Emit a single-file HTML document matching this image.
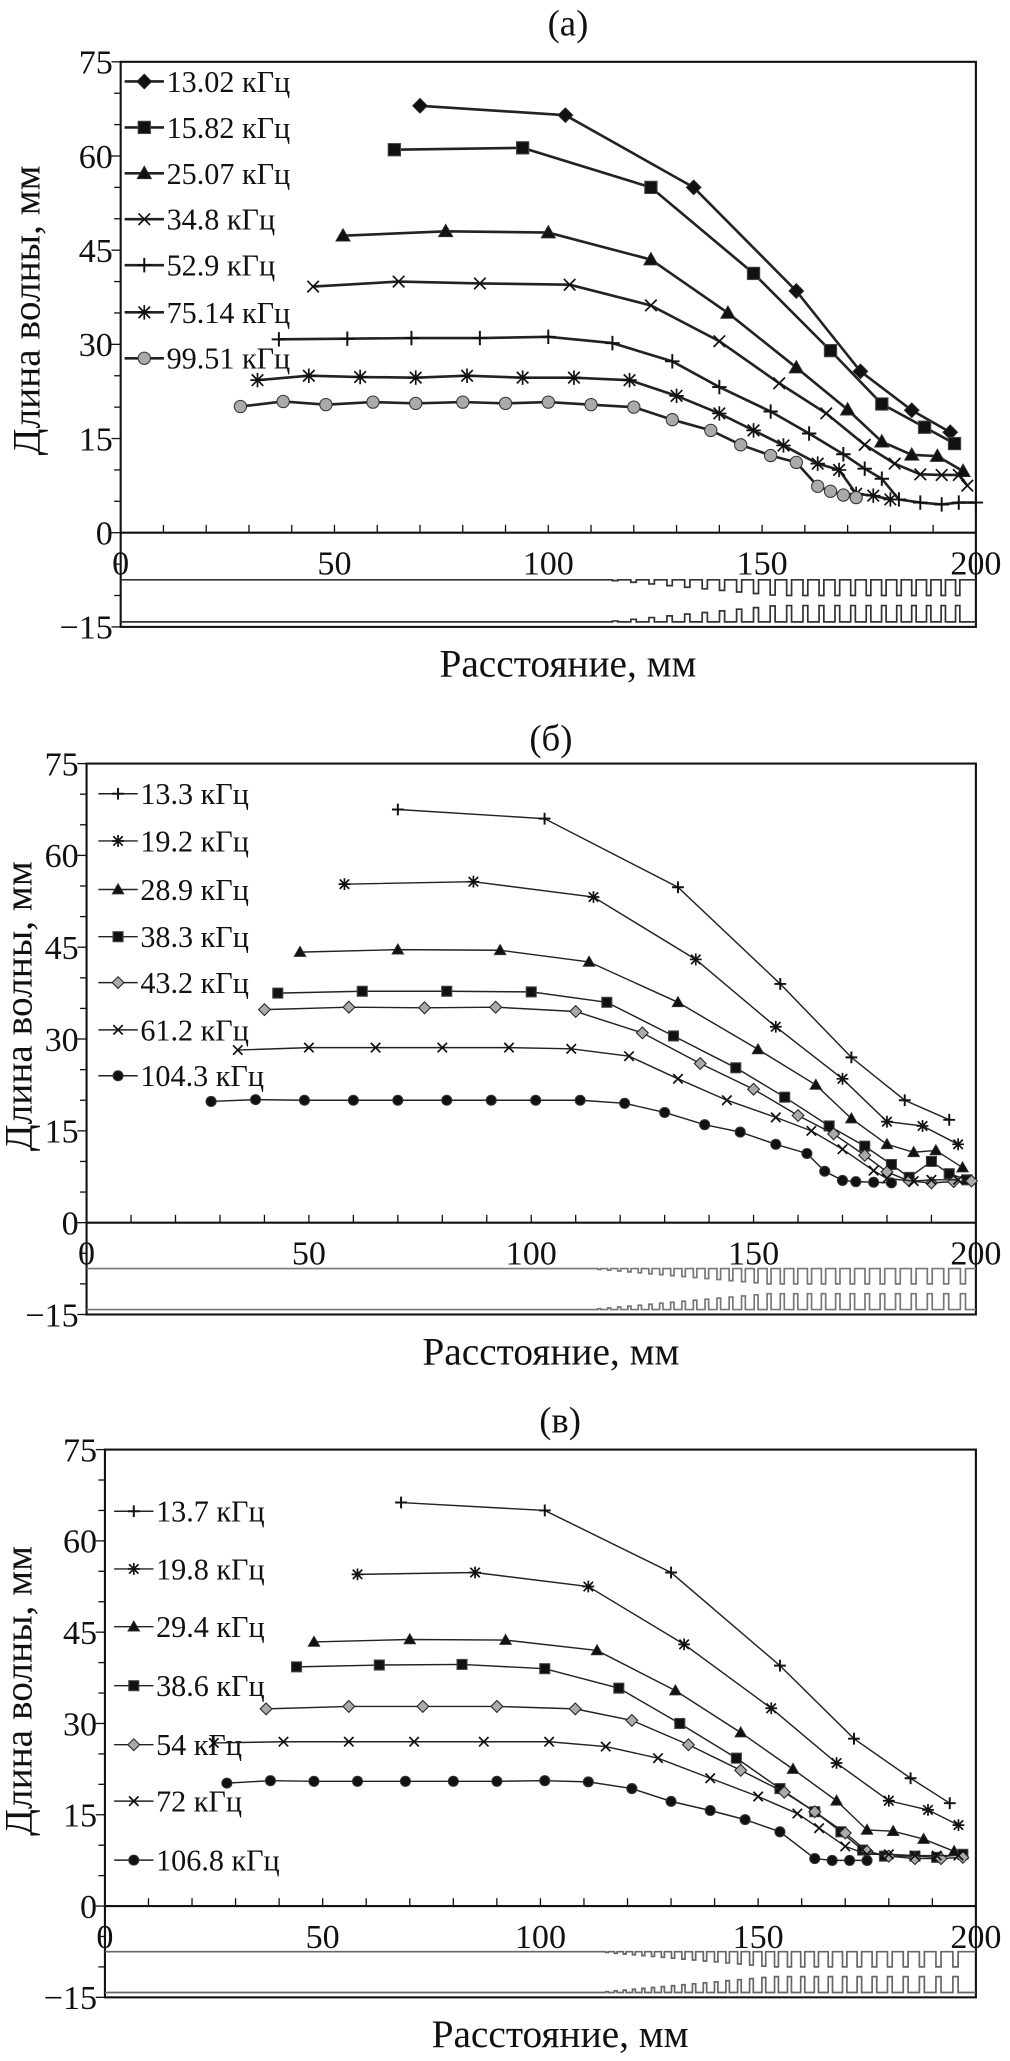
<!DOCTYPE html>
<html><head><meta charset="utf-8"><style>
html,body{margin:0;padding:0;background:#fff}
svg{display:block}
text{font-family:"Liberation Serif",serif;fill:#111}
</style></head><body>
<svg id="fig" width="1010" height="2061" viewBox="0 0 770 1571" xmlns="http://www.w3.org/2000/svg"></svg>
<script>
// ---- data: panel a ----
const aNames = ["13.02 кГц","15.82 кГц","25.07 кГц","34.8 кГц","52.9 кГц","75.14 кГц","99.51 кГц"];
const aMarkers = ["diamond","square","triangle","x","plus","star","circle"];
const aX = [
 [70,104,134,158,173,185,194],
 [64,94,124,148,166,178,188,195],
 [52,76,100,124,142,158,170,178,185,191,197],
 [45,65,84,105,124,140,154,165,174,181,187,192,196,198],
 [37,53,68,84,100,115,129,140,152,161,169,174,178,182,187,192,196,200],
 [32,44,56,69,81,94,106,119,130,140,148,155,163,168,172,176,180],
 [28,38,48,59,69,80,90,100,110,120,129,138,145,152,158,163,166,169,172]];
const aY = [
 [68,66.5,55,38.5,25.7,19.5,16],
 [61,61.3,55,41.3,29,20.5,16.8,14.2],
 [47.3,48,47.8,43.5,35,26.3,19.6,14.5,12.4,12.2,9.8],
 [39.2,40,39.7,39.5,36.2,30.5,23.8,19,14,11,9.3,9.2,9.2,7.5],
 [30.8,30.9,31,31,31.2,30.2,27.3,23.2,19.3,15.8,12.5,10.2,8.6,5.3,4.8,4.5,4.8,4.8],
 [24.3,25,24.8,24.7,25,24.7,24.7,24.3,21.8,19,16.3,13.9,11,10,6.2,5.9,5.3],
 [20.1,20.9,20.4,20.8,20.6,20.8,20.6,20.8,20.4,20,18,16.3,14,12.3,11.2,7.4,6.6,6,5.6]];
// ---- data: panel b ----
const bNames = ["13.3 кГц","19.2 кГц","28.9 кГц","38.3 кГц","43.2 кГц","61.2 кГц","104.3 кГц"];
const bMarkers = ["plus","star","triangle","square","diamond","x","circle"];
const bX = [
 [70,103,133,156,172,184,194],
 [58,87,114,137,155,170,180,188,196],
 [48,70,93,113,133,151,164,172,180,186,191,197],
 [43,62,81,100,117,132,146,157,167,175,181,185,190,194,198],
 [40,59,76,92,110,125,138,150,160,168,175,180,185,190,195,199],
 [34,50,65,80,95,109,122,133,144,155,163,170,177,180,186,190,196],
 [28,38,49,60,70,81,91,101,111,121,130,139,147,155,162,166,170,173,177,181]];
const bY = [
 [67.5,66,54.8,39,27,20,16.8],
 [55.3,55.7,53.2,43,32,23.5,16.5,15.8,12.8],
 [44.2,44.6,44.5,42.6,36,28.3,22.5,17,12.8,11.5,11.8,9],
 [37.5,37.8,37.8,37.7,36,30.5,25.3,20.5,15.8,12.5,9.5,7.4,10,8,7],
 [34.8,35.2,35.1,35.2,34.5,31,26,21.8,17.5,14.5,11,8.3,6.8,6.5,6.7,6.8],
 [28.2,28.6,28.6,28.6,28.6,28.4,27.2,23.5,20,17.2,15,12,8.5,7.2,6.8,7,7],
 [19.8,20.1,20,20,20,20,20,20,20,19.5,18,16,14.8,12.8,11.3,8.4,6.9,6.7,6.6,6.5]];
// ---- data: panel c ----
const cNames = ["13.7 кГц","19.8 кГц","29.4 кГц","38.6 кГц","54 кГц","72 кГц","106.8 кГц"];
const cMarkers = ["plus","star","triangle","square","diamond","x","circle"];
const cX = [
 [68,101,130,155,172,185,194],
 [58,85,111,133,153,168,180,189,196],
 [48,70,92,113,131,146,158,168,175,181,188,195],
 [44,63,82,101,118,132,145,155,163,169,174,179,186,191,197],
 [37,56,73,90,108,121,134,146,156,163,170,175,180,186,192,197],
 [25,41,56,71,87,102,115,127,139,150,159,164,170,175,180,186,191,196],
 [28,38,48,58,69,80,90,101,111,121,130,139,147,155,163,167,171,175]];
const cY = [
 [66.3,65,54.8,39.5,27.5,21,16.9],
 [54.5,54.8,52.5,43,32.5,23.5,17.3,15.8,13.3],
 [43.4,43.8,43.7,42,35.4,28.5,22.5,17.3,12.5,12.3,11,9],
 [39.3,39.6,39.7,39,35.8,30,24.3,19.3,15.5,12.2,9.2,8.2,8.2,8,8.5],
 [32.4,32.8,32.8,32.8,32.4,30.5,26.5,22.3,18.7,15.5,12,9,8.2,7.8,7.8,8],
 [26.8,27,27,27,27,27,26.2,24.3,21,18,15.2,12.8,9.8,8.5,8.5,8.3,8.3,8.3],
 [20.2,20.6,20.5,20.5,20.5,20.5,20.5,20.6,20.4,19.3,17.2,15.7,14.2,12.2,7.8,7.5,7.5,7.5]];
const yTicks = [-15,0,15,30,45,60,75];
const xTicks = [0,50,100,150,200];

const NS="http://www.w3.org/2000/svg";
const svg=document.getElementById('fig');
function mk(tag,attrs,parent){const e=document.createElementNS(NS,tag);for(const k in attrs)e.setAttribute(k,attrs[k]);(parent||svg).appendChild(e);return e;}

function marker(g,type,cx,cy,s,fill){
  let e;
  if(type==="diamond") e=mk('polygon',{points:`${cx},${cy-s} ${cx+s},${cy} ${cx},${cy+s} ${cx-s},${cy}`,fill:fill,stroke:'#222','stroke-width':0.8},g);
  else if(type==="square") e=mk('rect',{x:cx-s*0.85,y:cy-s*0.85,width:s*1.7,height:s*1.7,fill:fill,stroke:'#444','stroke-width':0.8},g);
  else if(type==="triangle") e=mk('polygon',{points:`${cx},${cy-s} ${cx+s},${cy+s*0.75} ${cx-s},${cy+s*0.75}`,fill:fill,stroke:'#333','stroke-width':0.6},g);
  else if(type==="circle") e=mk('circle',{cx:cx,cy:cy,r:s*0.85,fill:fill,stroke:'#333','stroke-width':0.8},g);
  else if(type==="plus") e=mk('path',{d:`M${cx-s},${cy}H${cx+s}M${cx},${cy-s}V${cy+s}`,stroke:'#111','stroke-width':1.5,fill:'none'},g);
  else if(type==="x") e=mk('path',{d:`M${cx-s*0.8},${cy-s*0.8}L${cx+s*0.8},${cy+s*0.8}M${cx-s*0.8},${cy+s*0.8}L${cx+s*0.8},${cy-s*0.8}`,stroke:'#111','stroke-width':1.3,fill:'none'},g);
  else if(type==="star") e=mk('path',{d:`M${cx-s},${cy}H${cx+s}M${cx-s*0.8},${cy-s*0.8}L${cx+s*0.8},${cy+s*0.8}M${cx-s*0.8},${cy+s*0.8}L${cx+s*0.8},${cy-s*0.8}M${cx},${cy-s}V${cy+s}`,stroke:'#111','stroke-width':1.3,fill:'none'},g);
  
  
}

function panel(cfg){
  const {id,title,titleY,L,R,T,Y0,names,markers,X,Y,lw,ms,leg,lineGray,combP,ytX}=cfg;
  const g=mk('g',{});
  
  
  const ppu=(Y0-T)/75;
  const sx=v=>L+(R-L)*v/200;
  const sy=v=>Y0-v*ppu;
  const B=sy(-15);
  const t=mk('text',{x:(L+R)/2+15,y:titleY,'font-size':28,'text-anchor':'middle'},g);t.textContent=title;
  
  const box=mk('rect',{x:L,y:T,width:R-L,height:B-T,fill:'none',stroke:'#111','stroke-width':1.6},g);
  
  const ax=mk('line',{x1:L,y1:Y0,x2:R,y2:Y0,stroke:'#111','stroke-width':1.6},g);
  
  for(let v=-15;v<=75;v+=5){const major=v%15===0;mk('line',{x1:L-(major?7:5),x2:L,y1:sy(v),y2:sy(v),stroke:'#111','stroke-width':1},g);}
  yTicks.forEach(v=>{const e=mk('text',{x:L-6,y:sy(v)+9,'font-size':26,'text-anchor':'end'},g);e.textContent=v<0?'\u2212'+Math.abs(v):v;
    });
  for(let v=10;v<200;v+=10)mk('line',{x1:sx(v),x2:sx(v),y1:Y0,y2:Y0-6,stroke:'#111','stroke-width':1},g);
  xTicks.forEach(v=>{const e=mk('text',{x:sx(v),y:Y0+32,'font-size':26,'text-anchor':'middle'},g);e.textContent=v;
    });
  const yl=mk('text',{x:0,y:0,'font-size':30,'text-anchor':'middle',transform:`translate(${ytX},${(T+Y0)/2+10}) rotate(-90)`},g);
  yl.textContent='Длина волны, мм';
  const xl=mk('text',{x:(L+R)/2+15,y:B+38,'font-size':30,'text-anchor':'middle'},g);
  xl.textContent='Расстояние, мм';
  const up=sy(-7.5),upT=sy(-10),lo=sy(-14.2),loT=sy(-11.6);
  let d1=`M${L},${up}H${sx(115)}`,d2=`M${L},${lo}H${sx(115)}`;
  let p=115;
  while(p<198){const per=combP(p);const w=per*0.3;const h=Math.min(1,(p-113)/40);
    d1+=`H${sx(p)}V${up+(upT-up)*h}H${sx(p+w)}V${up}`;d2+=`H${sx(p)}V${lo+(loT-lo)*h}H${sx(p+w)}V${lo}`;p+=per;}
  d1+=`H${R}`;d2+=`H${R}`;
  const c1=mk('path',{d:d1,fill:'none',stroke:lineGray,'stroke-width':1.3},g);
  
  const c2=mk('path',{d:d2,fill:'none',stroke:lineGray,'stroke-width':1.3},g);
  
  names.forEach((n,i)=>{
    const sg=mk('g',{},g);
    
    
    const pts=X[i].map((x,j)=>sx(x)+','+sy(Y[i][j])).join(' ');
    const pl=mk('polyline',{points:pts,fill:'none',stroke:'#222','stroke-width':lw},sg);
    
    const fill=(markers[i]==='circle'&&id==='a')||markers[i]==='diamond'&&id!=='a'?'#aaa':'#111';
    X[i].forEach((x,j)=>marker(sg,markers[i],sx(x),sy(Y[i][j]),ms,fill));
    const lg=mk('g',{},g);
    
    const ly=leg.y[i];
    mk('line',{x1:leg.x-15,x2:leg.x+15,y1:ly,y2:ly,stroke:'#222','stroke-width':lw},lg);
    marker(lg,markers[i],leg.x,ly,ms,fill);
    const lt=mk('text',{x:leg.x+17,y:ly+8,'font-size':23},lg);lt.textContent=n;
  });
}
panel({id:'a',title:'(a)',titleY:27,L:92,R:744,T:47,Y0:406,names:aNames,markers:aMarkers,X:aX,Y:aY,lw:2,ms:5.5,ytX:30,
  leg:{x:110,y:[62,97,132,167,202,238,273]},lineGray:'#333',combP:p=>4.3-(p-115)*0.012});
panel({id:'b',title:'(б)',titleY:572,L:66,R:744,T:582,Y0:932,names:bNames,markers:bMarkers,X:bX,Y:bY,lw:1.1,ms:4.5,ytX:24,
  leg:{x:90,y:[605,641,678,714,749,785,820]},lineGray:'#777',combP:p=>2.2+(p-115)*0.02});
panel({id:'c',title:'(в)',titleY:1092,L:80,R:744,T:1105,Y0:1453,names:cNames,markers:cMarkers,X:cX,Y:cY,lw:1.1,ms:4.5,ytX:24,
  leg:{x:102,y:[1152,1196,1240,1285,1330,1373,1418]},lineGray:'#666',combP:p=>2.0+(p-115)*0.025});
</script>
</body></html>
